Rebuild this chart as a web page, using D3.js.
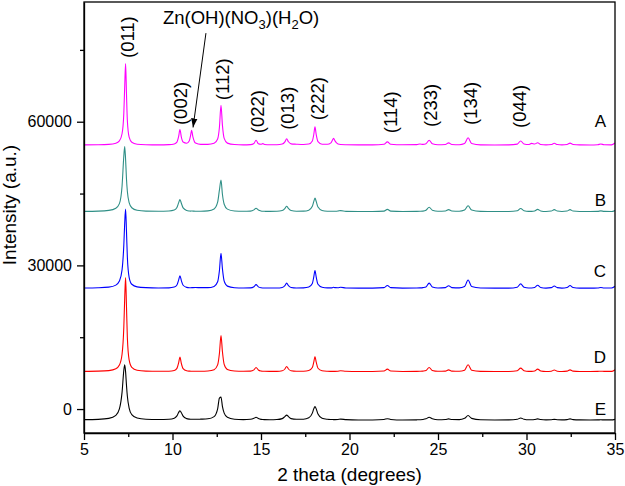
<!DOCTYPE html>
<html lang="en">
<head>
<meta charset="UTF-8">
<title>XRD patterns A-E</title>
<script src="https://d3js.org/d3.v7.min.js"></script>
<style>
  body { margin: 0; background: #fff; }
  svg { display: block; font-family: Arial, "Liberation Sans", sans-serif; }
  .trace { fill: none; stroke-width: 1.1; stroke-linejoin: round; }
  .axis path, .axis line { stroke: #000; stroke-width: 1.3; }
  .axis text { font-size: 16px; fill: #000; }
  .hkl { font-size: 18.5px; }
  .letter { font-size: 17px; }
  .title { font-size: 19px; }
</style>
</head>
<body>
<svg width="625" height="486"></svg>
<script>
// shared 2 theta sampling (degrees)
const twoTheta = [
  5.0, 5.8, 6.4, 6.8, 7.0, 7.15, 7.25, 7.3, 7.35, 7.4,
  7.45, 7.55, 7.7, 8.0, 8.5, 9.2, 9.8, 10.1, 10.25, 10.35,
  10.42, 10.5, 10.6, 10.8, 10.95, 11.02, 11.08, 11.15, 11.3, 11.6,
  12.0, 12.35, 12.55, 12.65, 12.74, 12.82, 12.92, 13.1, 13.5, 14.0,
  14.4, 14.6, 14.72, 14.85, 15.0, 15.1, 15.2, 15.5, 15.9, 16.2,
  16.35, 16.45, 16.55, 16.7, 17.0, 17.4, 17.7, 17.9, 17.98, 18.05,
  18.12, 18.22, 18.45, 18.75, 18.95, 19.03, 19.1, 19.18, 19.35, 19.5,
  19.8, 20.5, 21.3, 21.95, 22.14, 22.33, 23.0, 23.8, 23.98, 24.15,
  24.32, 24.5, 24.68, 25.0, 25.42, 25.6, 25.78, 26.2, 26.5, 26.7,
  26.9, 27.4, 28.2, 29.0, 29.48, 29.67, 29.86, 30.12, 30.29, 30.46,
  30.63, 30.8, 31.1, 31.4, 31.57, 31.74, 32.0, 32.29, 32.46, 32.63,
  33.0, 33.6, 34.02, 34.2, 34.38, 34.8, 35.0
];

// intensity above each pattern's own baseline
const intensityA = [
  60, 85, 160, 395, 885, 2385, 6680, 12270, 17040, 10730,
  5085, 1665, 605, 210, 95, 60, 110, 250, 650, 1880,
  3280, 1700, 650, 400, 940, 2015, 3100, 1795, 440, 165,
  160, 385, 1290, 3700, 8340, 4190, 1410, 430, 130, 75,
  110, 350, 1040, 320, 210, 330, 160, 90, 100, 230,
  690, 1330, 710, 280, 210, 150, 240, 890, 2180, 3830,
  2190, 740, 210, 190, 490, 995, 1450, 900, 240, 130,
  90, 60, 70, 210, 690, 200, 80, 110, 250, 170,
  290, 1040, 290, 100, 150, 490, 150, 100, 340, 1540,
  340, 60, 50, 70, 230, 890, 240, 130, 380, 235,
  510, 160, 60, 130, 390, 130, 60, 145, 440, 145,
  55, 45, 100, 240, 100, 70, 450
];
const intensityB = [
  77, 127, 280, 740, 1690, 5340, 11640, 13640, 10920, 6840,
  4220, 1915, 840, 310, 134, 100, 155, 350, 870, 1900,
  2540, 1775, 810, 267, 162, 140, 150, 140, 120, 110,
  190, 580, 1990, 4500, 6600, 3650, 1575, 550, 170, 90,
  130, 390, 740, 360, 150, 100, 90, 70, 90, 245,
  690, 1140, 690, 245, 110, 135, 335, 1135, 2130, 2840,
  2130, 975, 270, 120, 100, 95, 90, 100, 150, 240,
  80, 50, 60, 140, 490, 140, 60, 70, 90, 135,
  320, 940, 320, 90, 160, 440, 160, 105, 355, 1240,
  355, 80, 45, 60, 220, 690, 220, 80, 80, 175,
  490, 175, 60, 150, 440, 150, 60, 150, 440, 150,
  50, 45, 80, 190, 80, 60, 250
];
const intensityC = [
  75, 125, 260, 675, 1525, 3875, 9055, 13680, 16540, 11910,
  6485, 2315, 860, 320, 150, 90, 110, 270, 710, 1785,
  2640, 1625, 655, 210, 130, 140, 150, 160, 170, 150,
  150, 410, 1375, 3690, 7340, 4120, 1500, 470, 140, 80,
  110, 350, 790, 320, 125, 90, 80, 70, 75, 185,
  565, 1090, 565, 185, 80, 110, 270, 1020, 2350, 3740,
  2350, 850, 220, 100, 100, 140, 220, 150, 130, 230,
  80, 50, 60, 160, 590, 160, 60, 70, 100, 160,
  290, 1090, 290, 90, 165, 540, 165, 100, 380, 1740,
  380, 80, 50, 60, 240, 940, 240, 80, 90, 190,
  640, 190, 60, 150, 490, 150, 60, 170, 590, 170,
  50, 45, 80, 190, 80, 70, 450
];
const intensityD = [
  72, 113, 234, 608, 1382, 3650, 9330, 15390, 19640, 13610,
  7090, 2460, 900, 300, 125, 80, 100, 245, 700, 1910,
  3040, 1715, 640, 200, 125, 110, 100, 95, 90, 90,
  150, 420, 1415, 3790, 7540, 4230, 1540, 480, 145, 80,
  115, 390, 890, 355, 135, 90, 80, 70, 75, 185,
  565, 1090, 565, 185, 80, 100, 235, 860, 1980, 3140,
  1980, 720, 190, 90, 70, 65, 65, 70, 110, 190,
  80, 45, 50, 150, 540, 150, 50, 60, 80, 130,
  250, 890, 250, 80, 130, 390, 130, 90, 320, 1440,
  320, 75, 45, 55, 200, 740, 200, 70, 75, 160,
  540, 160, 55, 110, 340, 110, 55, 120, 390, 120,
  50, 45, 60, 110, 60, 60, 400
];
const intensityE = [
  90, 154, 350, 990, 2340, 5790, 10400, 11540, 10060, 7270,
  4975, 2490, 1135, 420, 175, 120, 175, 385, 875, 1600,
  1940, 1520, 820, 300, 190, 170, 165, 160, 160, 190,
  260, 715, 2320, 4600, 4800, 2870, 1450, 575, 185, 100,
  160, 360, 590, 335, 150, 105, 90, 75, 110, 305,
  730, 1040, 730, 305, 165, 180, 475, 1440, 2340, 2840,
  2340, 1270, 385, 165, 115, 105, 100, 100, 130, 190,
  90, 0, 20, 130, 290, 130, 20, 50, 70, 120,
  260, 590, 260, 80, 120, 240, 120, 100, 355, 940,
  355, 60, 30, 40, 170, 440, 170, 60, 60, 110,
  240, 110, 40, 70, 140, 70, 40, 90, 240, 90,
  40, 30, 40, 60, 40, 40, 150
];

const seriesNames = ["A", "B", "C", "D", "E"];
const seriesOffsets = [55100, 41200, 25200, 7800, -2300];
const letterIntensity = [58900, 42300, 27600, 9550, -1200];
const seriesValues = [intensityA, intensityB, intensityC, intensityD, intensityE];

const xTicks = [5, 10, 15, 20, 25, 30, 35];
const xMinorTicks = [7.5, 12.5, 17.5, 22.5, 27.5, 32.5];
const yTicks = [0, 30000, 60000];
const yMinorTicks = [15000, 45000, 75000];

const hklLabels = ["(011)", "(002)", "(112)", "(022)", "(013)", "(222)", "(114)", "(233)", "(134)", "(044)"];
const hklTheta = [7.46, 10.48, 12.82, 14.8, 16.5, 18.19, 22.34, 24.6, 26.86, 29.58];
const hklIntensity = [73300, 59300, 64500, 57600, 58300, 60300, 57600, 58900, 59300, 58700];

const colors = ["#ff00ff", "#2f8f86", "#0000ff", "#ff0000", "#000000"];

const svg = d3.select("svg");
const plotLeft = 84, plotRight = 615, plotTop = 2, plotBottom = 433;

const x = d3.scaleLinear().domain([5, 35]).range([plotLeft, plotRight]);
const y = d3.scaleLinear().domain([-5000, 85000]).range([plotBottom, plotTop]);

const defs = svg.append("defs");
defs.append("clipPath").attr("id", "plot-clip")
  .append("rect")
  .attr("x", plotLeft).attr("y", plotTop)
  .attr("width", plotRight - plotLeft).attr("height", plotBottom - plotTop);

defs.append("marker")
  .attr("id", "arrow")
  .attr("viewBox", "0 0 10 10")
  .attr("refX", 10).attr("refY", 5)
  .attr("markerWidth", 9).attr("markerHeight", 9)
  .attr("markerUnits", "userSpaceOnUse")
  .attr("orient", "auto")
  .append("path")
  .attr("d", "M0,1.5 L10,5 L0,8.5 Z")
  .attr("fill", "#000");

// patterns
const traces = svg.append("g").attr("clip-path", "url(#plot-clip)");
seriesValues.forEach((vals, s) => {
  const line = d3.line()
    .x((d, i) => x(twoTheta[i]))
    .y(d => y(d + seriesOffsets[s]))
    .curve(d3.curveMonotoneX);
  traces.append("path")
    .attr("class", "trace")
    .attr("d", line(vals))
    .attr("stroke", colors[s]);
});

// axes
svg.append("g").attr("class", "axis")
  .attr("transform", `translate(0,${plotBottom})`)
  .call(d3.axisBottom(x).tickValues(xTicks).tickSize(7).tickSizeOuter(0).tickPadding(4));
svg.append("g").attr("class", "axis")
  .attr("transform", `translate(0,${plotBottom})`)
  .call(d3.axisBottom(x).tickValues(xMinorTicks).tickSize(4).tickFormat(""))
  .select(".domain").remove();

svg.append("g").attr("class", "axis")
  .attr("transform", `translate(${plotLeft},0)`)
  .call(d3.axisLeft(y).tickValues(yTicks).tickSize(7).tickSizeOuter(0).tickPadding(5).tickFormat(d3.format("d")));
svg.append("g").attr("class", "axis")
  .attr("transform", `translate(${plotLeft},0)`)
  .call(d3.axisLeft(y).tickValues(yMinorTicks).tickSize(4).tickFormat(""))
  .select(".domain").remove();

// frame
svg.append("rect")
  .attr("x", plotLeft).attr("y", plotTop)
  .attr("width", plotRight - plotLeft).attr("height", plotBottom - plotTop)
  .attr("fill", "none").attr("stroke", "#000").attr("stroke-width", 1.3);

// axis titles
svg.append("text").attr("class", "title")
  .attr("x", (plotLeft + plotRight) / 2).attr("y", 481)
  .attr("text-anchor", "middle")
  .text("2 theta (degrees)");
svg.append("text").attr("class", "title")
  .attr("transform", "translate(16,205) rotate(-90)")
  .attr("text-anchor", "middle")
  .text("Intensity (a.u.)");

// pattern letters
svg.selectAll(".letter").data(seriesNames).join("text")
  .attr("class", "letter")
  .attr("x", x(34.5)).attr("y", (d, i) => y(letterIntensity[i]))
  .attr("text-anchor", "end")
  .text(d => d);

// hkl labels
svg.selectAll(".hkl").data(hklLabels).join("text")
  .attr("class", "hkl")
  .attr("transform", (d, i) => `translate(${x(hklTheta[i])},${y(hklIntensity[i])}) rotate(-90)`)
  .attr("dominant-baseline", "central")
  .text(d => d);

// Zn(OH)(NO3)(H2O) annotation
const zn = svg.append("text").attr("class", "hkl")
  .attr("x", x(9.46)).attr("y", y(80400));
zn.append("tspan").text("Zn(OH)(NO");
zn.append("tspan").attr("font-size", 13).attr("dy", 5).text("3");
zn.append("tspan").attr("dy", -5).text(")(H");
zn.append("tspan").attr("font-size", 13).attr("dy", 5).text("2");
zn.append("tspan").attr("dy", -5).text("O)");

svg.append("line")
  .attr("x1", x(11.89)).attr("y1", y(78500))
  .attr("x2", x(11.16)).attr("y2", y(58800))
  .attr("stroke", "#000").attr("stroke-width", 1)
  .attr("marker-end", "url(#arrow)");
</script>
</body>
</html>
